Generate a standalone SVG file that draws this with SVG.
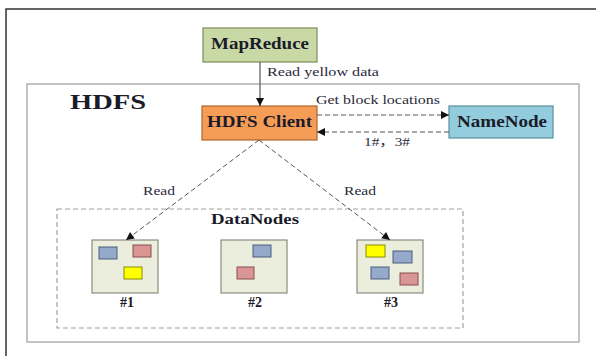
<svg xmlns="http://www.w3.org/2000/svg" width="600" height="356" viewBox="0 0 600 356" font-family="'Liberation Serif', 'Noto Sans CJK SC', serif">
<style>
  text { font-family: "Liberation Serif", "Noto Sans CJK SC", serif; fill: #1b1b2a; }
  .lbl { font-size: 12px; fill: #2a2a3a; }
  .dn { fill: #ebeedd; stroke: #8c8c80; stroke-width: 1.2; }
  .blue { fill: #95a9cb; stroke: #4d5d7d; stroke-width: 1; }
  .pink { fill: #da9694; stroke: #8a4d4d; stroke-width: 1; }
  .yellow { fill: #ffff00; stroke: #8a8a00; stroke-width: 1; }
  .dash { fill: none; stroke: #555; stroke-width: 1; stroke-dasharray: 5 3; }
  .solid { fill: none; stroke: #555; stroke-width: 1.2; }
  .num { font-weight: bold; font-size: 14px; text-anchor: middle; }
</style>
<defs>
  <marker id="ah" viewBox="0 0 10 10" refX="10" refY="5" markerWidth="11" markerHeight="8" markerUnits="userSpaceOnUse" orient="auto">
    <path d="M0,0 L10,5 L0,10 z" fill="#111"/>
  </marker>
</defs>
<rect width="600" height="356" fill="#fff"/>
<!-- outer frame -->
<path d="M6,356 L6,9 L596,9" fill="none" stroke="#333" stroke-width="1.5"/>
<!-- HDFS container -->
<g id="hdfs">
  <rect x="27" y="84" width="552" height="258" fill="none" stroke="#b0b0b0" stroke-width="1.5"/>
  <text x="70" y="109" font-size="22" font-weight="bold" textLength="76" lengthAdjust="spacingAndGlyphs">HDFS</text>
</g>
<!-- DataNodes container -->
<g id="datanodes">
  <rect x="57" y="209" width="406" height="119" fill="none" stroke="#a0a0a0" stroke-width="1.2" stroke-dasharray="5 3"/>
  <text x="211" y="224" font-size="15" font-weight="bold" textLength="88" lengthAdjust="spacingAndGlyphs">DataNodes</text>
</g>
<g id="mapreduce">
  <rect x="203" y="28" width="114" height="34" fill="#c9d9a6" stroke="#7d8c5c" stroke-width="1.2"/>
  <text x="211" y="49" font-size="16" font-weight="bold" textLength="98" lengthAdjust="spacingAndGlyphs">MapReduce</text>
</g>
<g id="hdfsclient">
  <rect x="202" y="106" width="115" height="34" fill="#f59d56" stroke="#b0672e" stroke-width="1.2"/>
  <text x="207" y="127" font-size="16" font-weight="bold" textLength="105" lengthAdjust="spacingAndGlyphs">HDFS Client</text>
</g>
<g id="namenode">
  <rect x="449" y="106" width="104" height="32" fill="#93cddd" stroke="#5a8fa0" stroke-width="1.2"/>
  <text x="457" y="127" font-size="16" font-weight="bold" textLength="90" lengthAdjust="spacingAndGlyphs">NameNode</text>
</g>
<g id="dn1">
  <rect class="dn" x="92" y="240" width="66" height="53"/>
  <rect class="blue" x="99" y="247" width="18" height="12"/>
  <rect class="pink" x="133" y="245" width="18" height="12"/>
  <rect class="yellow" x="124" y="267" width="18" height="12"/>
  <text class="num" x="127" y="307">#1</text>
</g>
<g id="dn2">
  <rect class="dn" x="221" y="240" width="66" height="53"/>
  <rect class="blue" x="253" y="245" width="18" height="12"/>
  <rect class="pink" x="237" y="267" width="17" height="12"/>
  <text class="num" x="255" y="307">#2</text>
</g>
<g id="dn3">
  <rect class="dn" x="357" y="240" width="66" height="53"/>
  <rect class="yellow" x="366" y="245" width="19" height="12"/>
  <rect class="blue" x="393" y="251" width="19" height="12"/>
  <rect class="blue" x="371" y="267" width="18" height="12"/>
  <rect class="pink" x="400" y="273" width="18" height="12"/>
  <text class="num" x="391" y="307">#3</text>
</g>
<g id="connectors">
  <line class="solid" x1="260" y1="62" x2="260" y2="106" marker-end="url(#ah)"/>
  <text class="lbl" x="267" y="76" textLength="112" lengthAdjust="spacingAndGlyphs">Read yellow data</text>
  <line class="dash" x1="317" y1="115" x2="449" y2="115" marker-end="url(#ah)"/>
  <text class="lbl" x="316" y="104" textLength="124" lengthAdjust="spacingAndGlyphs">Get block locations</text>
  <line class="dash" x1="449" y1="132" x2="317" y2="132" marker-end="url(#ah)"/>
  <text class="lbl" x="364" y="146" textLength="46" lengthAdjust="spacingAndGlyphs">1#，3#</text>
  <line class="dash" x1="259" y1="140" x2="126" y2="240" marker-end="url(#ah)"/>
  <line class="dash" x1="259" y1="140" x2="390" y2="240" marker-end="url(#ah)"/>
  <text class="lbl" x="143" y="195" textLength="32" lengthAdjust="spacingAndGlyphs">Read</text>
  <text class="lbl" x="344" y="195" textLength="32" lengthAdjust="spacingAndGlyphs">Read</text>
</g>
</svg>
